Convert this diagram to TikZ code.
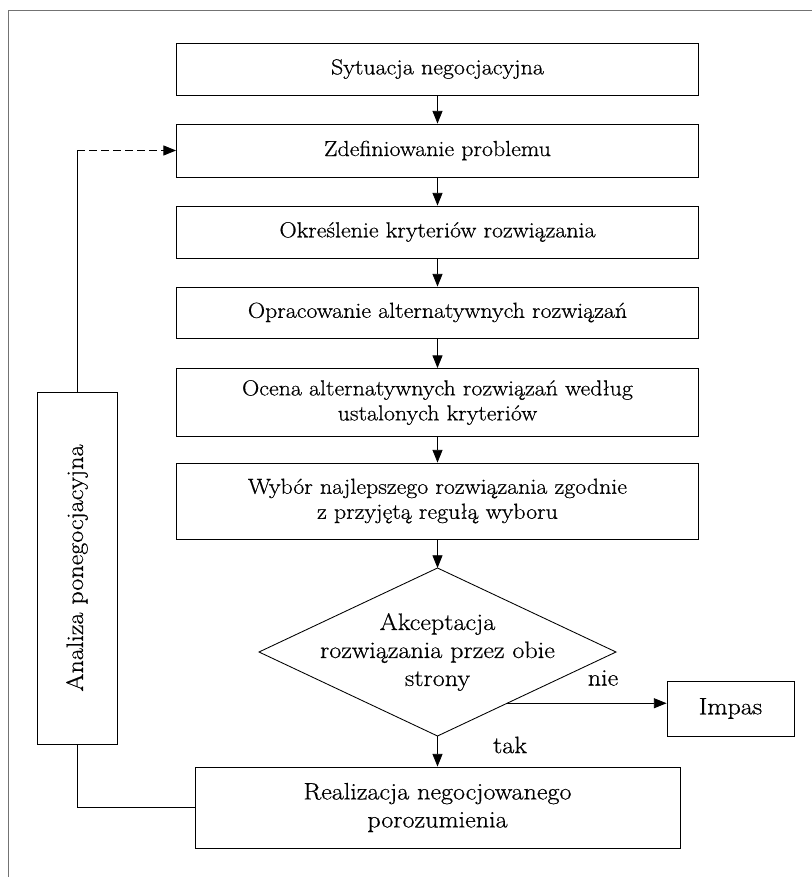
\documentclass[tikz,border=0pt]{standalone}
\usepackage{fontspec}
\newfontfamily\diagfont{Latin Modern Roman}[FakeStretch=1.1, FakeBold=0.6]
\usetikzlibrary{shapes.geometric, arrows.meta, calc}

\begin{document}
\begin{tikzpicture}[x=0.75pt, y=-0.75pt,
  txt/.style={font=\diagfont\fontsize{16.3}{18.75}\selectfont},
  bigtxt/.style={font=\diagfont\fontsize{17.8}{21}\selectfont},
  stage/.style={draw, line width=0.65pt, minimum width=391.5pt, align=center,
    inner sep=0pt, txt},
  decision/.style={draw, shape=diamond, line width=0.65pt, minimum width=267.75pt,
    minimum height=126pt, inner sep=0pt, outer sep=0pt},
  link/.style={line width=0.6pt},
  arr/.style={link, -{Triangle[length=9.5pt,width=7.5pt]}},
  backdash/.style={dash pattern=on 6pt off 3pt},
  frame/.style={line width=0.5pt, black!55}
]
\useasboundingbox (0,0) rectangle (812,877);

% page frame (top and left edges)
\draw[frame] (8,877) -- (8,10) -- (812,10);

% main sequence of stages
\node[stage, minimum height=39pt]    (s1) at (437.5,69)    {Sytuacja negocjacyjna};
\node[stage, minimum height=39.75pt] (s2) at (437.5,150.5) {Zdefiniowanie problemu};
\node[stage, minimum height=39pt]    (s3) at (437.5,232)   {Określenie kryteriów rozwiązania};
\node[stage, minimum height=38.25pt] (s4) at (437.5,312.5) {Opracowanie alternatywnych rozwiązań};
\node[stage, minimum height=51pt]    (s5) at (437.5,402.5) {Ocena alternatywnych rozwiązań według\\ustalonych kryteriów};
\node[stage, minimum height=57pt]    (s6) at (437.5,501)   {Wybór najlepszego rozwiązania zgodnie\\z przyjętą regułą wyboru};

% decision
\node[decision] (acc) at (437.5,652) {};
\node[align=center, bigtxt] (acctext) at (acc)
  {Akceptacja\\rozwiązania przez obie\\strony};

% outcomes
\node[stage, bigtxt, minimum width=363.75pt, minimum height=60.75pt] (real) at (437.5,807.5)
  {Realizacja negocjowanego\\porozumienia};
\node[stage, bigtxt, minimum width=95.25pt, minimum height=41.25pt] (imp) at (730.5,708.5) {Impas};

% post-negotiation analysis
\node[stage, minimum width=60pt, minimum height=264pt] (ana) at (77,568) {};
\node[bigtxt, rotate=90] (anatext) at (ana) {Analiza ponegocjacyjna};

% arrows down the column
\draw[arr] (s1) -- (s2);
\draw[arr] (s2) -- (s3);
\draw[arr] (s3) -- (s4);
\draw[arr] (s4) -- (s5);
\draw[arr] (s5) -- (s6);
\draw[arr] (s6) -- (acc);
\draw[arr] (acc) -- (real);

% "nie" branch
\path (acc.south) -- (acc.east) coordinate[pos=0.39] (nieStart);
\draw[arr] (nieStart) -- (nieStart -| imp.west);
\node[bigtxt] (nie) at (603,678) {nie};
\node[bigtxt] (tak) at (510,745) {tak};

% feedback loop
\coordinate (turn) at (ana.north |- s2.west);
\draw[link] (ana.north) -- (turn);
\draw[arr, backdash] (turn) -- (s2.west);
\draw[link] (ana.south) |- (real.west);
\end{tikzpicture}
\end{document}
